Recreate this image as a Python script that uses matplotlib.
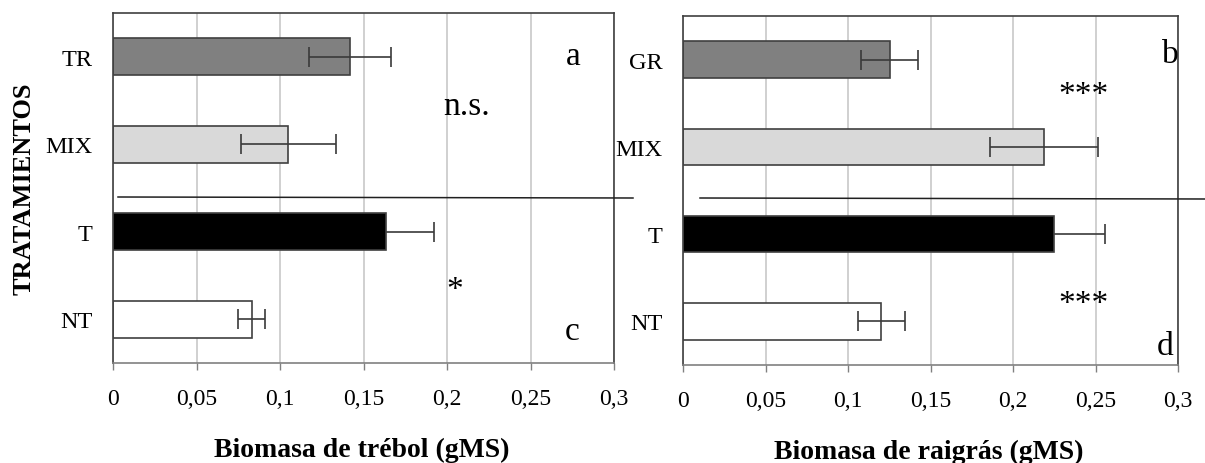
import matplotlib
matplotlib.use("Agg")
import matplotlib.pyplot as plt
from matplotlib.lines import Line2D

plt.rcParams['font.family'] = ['Liberation Serif', 'DejaVu Serif']

# ---- data ----
cats_left = ["NT", "T", "MIX", "TR"]
vals_left = [0.083, 0.1635, 0.105, 0.142]
err_left = [0.0082, 0.0286, 0.0283, 0.0245]

cats_right = ["NT", "T", "MIX", "GR"]
vals_right = [0.1203, 0.2249, 0.2188, 0.1252]
err_right = [0.0145, 0.0306, 0.0327, 0.0173]

bar_colors = ["#ffffff", "#000000", "#d9d9d9", "#808080"]
xticks = [0, 0.05, 0.1, 0.15, 0.2, 0.25, 0.3]
xtick_labels = ["0", "0,05", "0,1", "0,15", "0,2", "0,25", "0,3"]

W, H = 1205, 464
fig = plt.figure(figsize=(W / 100, H / 100), dpi=100)


def px_axes(l, r, t, b):
    return fig.add_axes([l / W, 1 - b / H, (r - l) / W, (b - t) / H])


axL = px_axes(113, 614, 14, 364)
axR = px_axes(683, 1178, 17, 366)


def style(ax, cats, vals, errs):
    y = list(range(len(cats)))
    ax.set_axisbelow(True)
    ax.xaxis.grid(True, color="#c8c8c8", linewidth=1.2)
    ax.barh(y, vals, height=0.42, color=bar_colors, edgecolor="#404040",
            linewidth=1.2, zorder=2)
    for yi, v, e, c in zip(y, vals, errs, bar_colors):
        # error bars sit on top of the bars, except on the black bar where
        # the part inside the bar is hidden as in the original
        z = 1.5 if c == "#000000" else 3
        ax.errorbar([v], [yi], xerr=[e], fmt="none", ecolor="#3a3a3a",
                    elinewidth=1.2, capsize=7, capthick=1.2, zorder=z)
    ax.set_xlim(0, 0.3)
    ax.set_ylim(-0.5, 3.5)
    ax.set_yticks(y)
    ax.set_yticklabels(cats, fontsize=17.5)
    ax.set_xticks(xticks)
    ax.set_xticklabels(xtick_labels, fontsize=17)
    ax.tick_params(axis="y", length=0, pad=15)
    ax.tick_params(axis="x", length=5, width=1, color="#808080", pad=13)
    for s in ["top", "right", "left"]:
        ax.spines[s].set_color("#404040")
        ax.spines[s].set_linewidth(1.2)
    ax.spines["bottom"].set_color("#808080")
    ax.spines["bottom"].set_linewidth(1.2)


style(axL, cats_left, vals_left, err_left)
style(axR, cats_right, vals_right, err_right)

ann = dict(fontsize=24, ha="center", va="baseline", zorder=5)
axL.text(0.2754, 2.917, "a", **ann)
axL.text(0.2116, 2.346, "n.s.", **ann)
axL.text(0.2048, 0.243, "*", **ann)
axL.text(0.2748, -0.226, "c", **ann)
axR.text(0.2951, 2.973, "b", **ann)
axR.text(0.243, 2.503, "***", **ann)
axR.text(0.243, 0.107, "***", **ann)
axR.text(0.2921, -0.374, "d", **ann)

# separating lines
fig.add_artist(Line2D([118 / W, 633 / W], [1 - 198 / H, 1 - 199 / H],
                      color="#202020", linewidth=1.1))
fig.add_artist(Line2D([700 / W, 1205 / W], [1 - 199 / H, 1 - 200 / H],
                      color="#202020", linewidth=1.1))

fig.text(24 / W, 1 - 189 / H, "TRATAMIENTOS", rotation=90, ha="center",
         va="center", fontsize=19, fontweight="bold")
fig.text(362 / W, 1 - 450 / H, "Biomasa de trébol (gMS)", ha="center",
         va="center", fontsize=20, fontweight="bold")
fig.text(929 / W, 1 - 452 / H, "Biomasa de raigrás (gMS)", ha="center",
         va="center", fontsize=20, fontweight="bold")

fig.savefig("out.png", dpi=100)
